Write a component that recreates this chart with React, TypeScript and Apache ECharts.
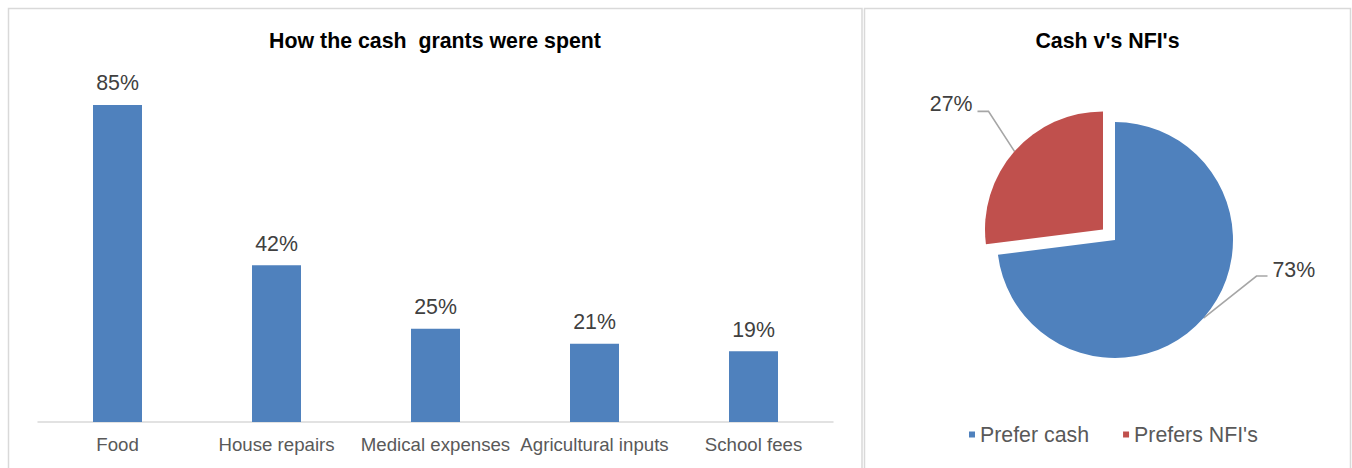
import React, { useEffect, useRef } from "react";
import * as echarts from "echarts";

const barTitle = "How the cash  grants were spent";
const barCategories = ["Food", "House repairs", "Medical expenses", "Agricultural inputs", "School fees"];
const barValues = [85, 42, 25, 21, 19];

const pieTitle = "Cash v's NFI's";
const pieNames = ["Prefer cash", "Prefers NFI's"];
const pieValues = [73, 27];
const pieColors = ["#4F81BD", "#C0504D"];

export default function App() {
  const ref = useRef<HTMLDivElement>(null);
  useEffect(() => {
    document.body.style.margin = "0";
    const chart = echarts.init(ref.current!, null, { renderer: "svg" });
    const font = "'Liberation Sans', Arial, sans-serif";
    const pieLabel = {
      show: true,
      position: "outside",
      formatter: "{c}%",
      fontSize: 21.33,
      color: "#404040",
      fontFamily: font,
    };
    const hidden = "rgba(0,0,0,0)";
    // one pie series per slice so the NFI slice can be pulled out (exploded)
    const pieSeries = (shown: number, center: number[]) => ({
      type: "pie",
      center,
      radius: 118,
      startAngle: 90,
      clockwise: true,
      silent: true,
      emphasis: { disabled: true },
      data: pieNames.map((n, i) => ({
        name: n,
        value: pieValues[i],
        itemStyle: { color: i === shown ? pieColors[i] : hidden },
        label: i === shown ? pieLabel : { show: false },
        labelLine: i === shown ? { show: true, lineStyle: { color: "#a6a6a6", width: 1.6 } } : { show: false },
      })),
      labelLayout: (params: any) => {
        const pts = params.labelLinePoints;
        if (!pts || params.dataIndex !== shown) return {};
        const p0 = pts[0];
        if (shown === 0) {
          const p1 = [p0[0] + 53, p0[1] - 42];
          const p2 = [p1[0] + 11, p1[1]];
          return { x: p2[0] + 5, y: p2[1] - 6, align: "left", verticalAlign: "middle", labelLinePoints: [p0, p1, p2] };
        }
        const p1 = [p0[0] - 26, p0[1] - 40];
        const p2 = [p1[0] - 11, p1[1]];
        return { x: p2[0] - 5, y: p2[1] - 7, align: "right", verticalAlign: "middle", labelLinePoints: [p0, p1, p2] };
      },
    });
    chart.setOption({
      animation: false,
      textStyle: { fontFamily: font },
      graphic: [
        {
          type: "rect",
          silent: true,
          z: -1,
          shape: { x: 8.5, y: 8.5, width: 853.5, height: 500 },
          style: { fill: "none", stroke: "#d9d9d9", lineWidth: 1.5 },
        },
        {
          type: "rect",
          silent: true,
          z: -1,
          shape: { x: 864.5, y: 8.5, width: 486, height: 500 },
          style: { fill: "none", stroke: "#d9d9d9", lineWidth: 1.5 },
        },
      ],
      title: [
        {
          text: barTitle,
          left: 435,
          top: 30,
          padding: 0,
          textAlign: "center",
          textStyle: { fontSize: 21.33, fontWeight: "bold", color: "#000", fontFamily: font },
        },
        {
          text: pieTitle,
          left: 1107.5,
          top: 30,
          padding: 0,
          textAlign: "center",
          textStyle: { fontSize: 21.33, fontWeight: "bold", color: "#000", fontFamily: font },
        },
      ],
      legend: {
        data: pieNames.map((n, i) => ({ name: n, itemStyle: { color: pieColors[i] } })),
        left: 969,
        top: 424,
        padding: 0,
        icon: "rect",
        itemWidth: 6,
        itemHeight: 6,
        itemGap: 34,
        selectedMode: false,
        textStyle: { fontSize: 21.33, color: "#595959", fontFamily: font },
      },
      grid: { left: 38, right: 519, top: 49, bottom: 46, containLabel: false },
      xAxis: {
        type: "category",
        data: barCategories,
        axisLine: { lineStyle: { color: "#d9d9d9", width: 1.5 } },
        axisTick: { show: false },
        axisLabel: { interval: 0, margin: 13, fontSize: 18.67, color: "#595959", fontFamily: font },
      },
      yAxis: { type: "value", min: 0, max: 100, show: false, splitLine: { show: false } },
      series: [
        {
          type: "bar",
          data: barValues,
          barWidth: 49,
          itemStyle: { color: "#4F81BD" },
          label: {
            show: true,
            position: "top",
            distance: 11,
            formatter: "{c}%",
            fontSize: 21.33,
            color: "#404040",
            fontFamily: font,
          },
        },
        pieSeries(0, [1115, 240]),
        pieSeries(1, [1103, 229.4]),
      ],
    });
    return () => chart.dispose();
  }, []);
  return <div ref={ref} style={{ width: 1352, height: 468 }} />;
}
